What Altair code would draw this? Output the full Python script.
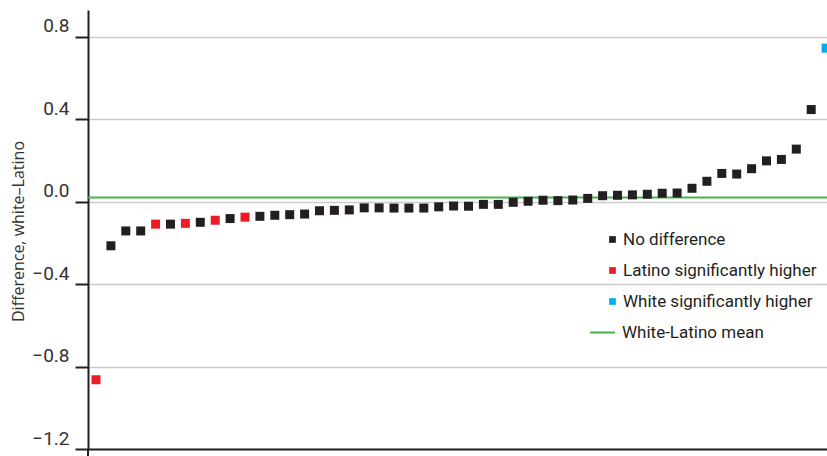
import altair as alt
import pandas as pd

# Differences (white minus Latino), sorted from lowest to highest
diff = [-0.864, -0.214, -0.142, -0.142, -0.109, -0.109, -0.105, -0.100, -0.090, -0.082,
        -0.075, -0.071, -0.066, -0.063, -0.060, -0.044, -0.042, -0.040, -0.030, -0.030,
        -0.031, -0.031, -0.031, -0.025, -0.021, -0.022, -0.013, -0.013, -0.003, 0.002,
        0.007, 0.005, 0.008, 0.016, 0.029, 0.031, 0.033, 0.036, 0.041, 0.042,
        0.065, 0.099, 0.137, 0.134, 0.160, 0.198, 0.205, 0.255, 0.447, 0.745]

# Significance code per item: n = no difference, l = Latino higher, w = white higher
sig = ["l", "n", "n", "n", "l", "n", "l", "n", "l", "n",
       "l", "n", "n", "n", "n", "n", "n", "n", "n", "n",
       "n", "n", "n", "n", "n", "n", "n", "n", "n", "n",
       "n", "n", "n", "n", "n", "n", "n", "n", "n", "n",
       "n", "n", "n", "n", "n", "n", "n", "n", "n", "w"]

group_names = {"n": "No difference",
               "l": "Latino significantly higher",
               "w": "White significantly higher"}
group_order = ["No difference", "Latino significantly higher", "White significantly higher"]
group_colors = ["#231f20", "#ed1c24", "#00aeef"]

mean_value = 0.02
mean_label = "White-Latino mean"
y_ticks = [-1.2, -0.8, -0.4, 0.0, 0.4, 0.8]

df = pd.DataFrame({
    "rank": list(range(len(diff))),
    "diff": diff,
    "group": [group_names[s] for s in sig],
})
mean_df = pd.DataFrame({"mean": [mean_value], "label": [mean_label]})

W, H = 739, 439
LABEL_FONT = "Roboto"
TEXT_COLOR = "#333333"

x_scale = alt.Scale(domain=[-0.537, 49.06], nice=False, zero=False)
y_scale = alt.Scale(domain=[-1.2, 0.93], nice=False, zero=False)

points = alt.Chart(df).mark_square(size=81, opacity=1).encode(
    x=alt.X("rank:Q", scale=x_scale,
            axis=alt.Axis(title=None, labels=False, ticks=False, grid=False,
                          domainColor="#231f20", domainWidth=2)),
    y=alt.Y("diff:Q", scale=y_scale,
            axis=alt.Axis(values=y_ticks, format=".1f",
                          title="Difference, white\u2013Latino",
                          titleFont="Open Sans", titleFontSize=16,
                          titleFontWeight="normal", titleColor=TEXT_COLOR,
                          titleX=-70, titleY=221, titleAngle=-90,
                          titleAlign="center", titleBaseline="middle",
                          labelFont=LABEL_FONT, labelFontSize=19, labelColor=TEXT_COLOR,
                          labelBaseline="middle", labelOffset=-11, labelPadding=6,
                          tickSize=13, tickWidth=2, tickColor="#231f20",
                          domainColor="#231f20", domainWidth=2,
                          grid=True, gridColor="#cbcbcb", gridWidth=1.5)),
    color=alt.Color("group:N",
                    scale=alt.Scale(domain=group_order, range=group_colors),
                    legend=alt.Legend(title=None, orient="none", legendX=516, legendY=221,
                                      symbolType="square", symbolSize=45,
                                      symbolStrokeWidth=0, symbolOpacity=1,
                                      labelFont=LABEL_FONT, labelFontSize=17,
                                      labelColor="#231f20", labelOffset=2, labelLimit=400,
                                      rowPadding=13, padding=0)),
)

mean_line = alt.Chart(mean_df).mark_rule(strokeWidth=2).encode(
    y=alt.Y("mean:Q", scale=y_scale),
    color=alt.Color("label:N",
                    scale=alt.Scale(domain=[mean_label], range=["#45b549"]),
                    legend=alt.Legend(title=None, orient="none", legendX=501, legendY=309,
                                      symbolType="stroke", symbolSize=625,
                                      symbolStrokeWidth=2,
                                      labelFont=LABEL_FONT, labelFontSize=17,
                                      labelColor="#231f20", labelOffset=6, labelLimit=400,
                                      padding=0)),
)

# short continuation of the vertical axis below the baseline
axis_tail = alt.Chart(mean_df).mark_rule(color="#231f20", strokeWidth=2).encode(
    x=alt.value(0), y=alt.value(H), y2=alt.value(H + 8)
)

chart = alt.layer(mean_line, points, axis_tail).resolve_scale(
    color="independent"
).properties(
    width=W, height=H,
    padding={"left": 88, "top": 10, "right": 0, "bottom": 7},
    autosize=alt.AutoSizeParams(type="none"),
    background="white",
).configure_view(stroke=None)

chart.save("out.html", embed_options={"renderer": "svg", "actions": False})
